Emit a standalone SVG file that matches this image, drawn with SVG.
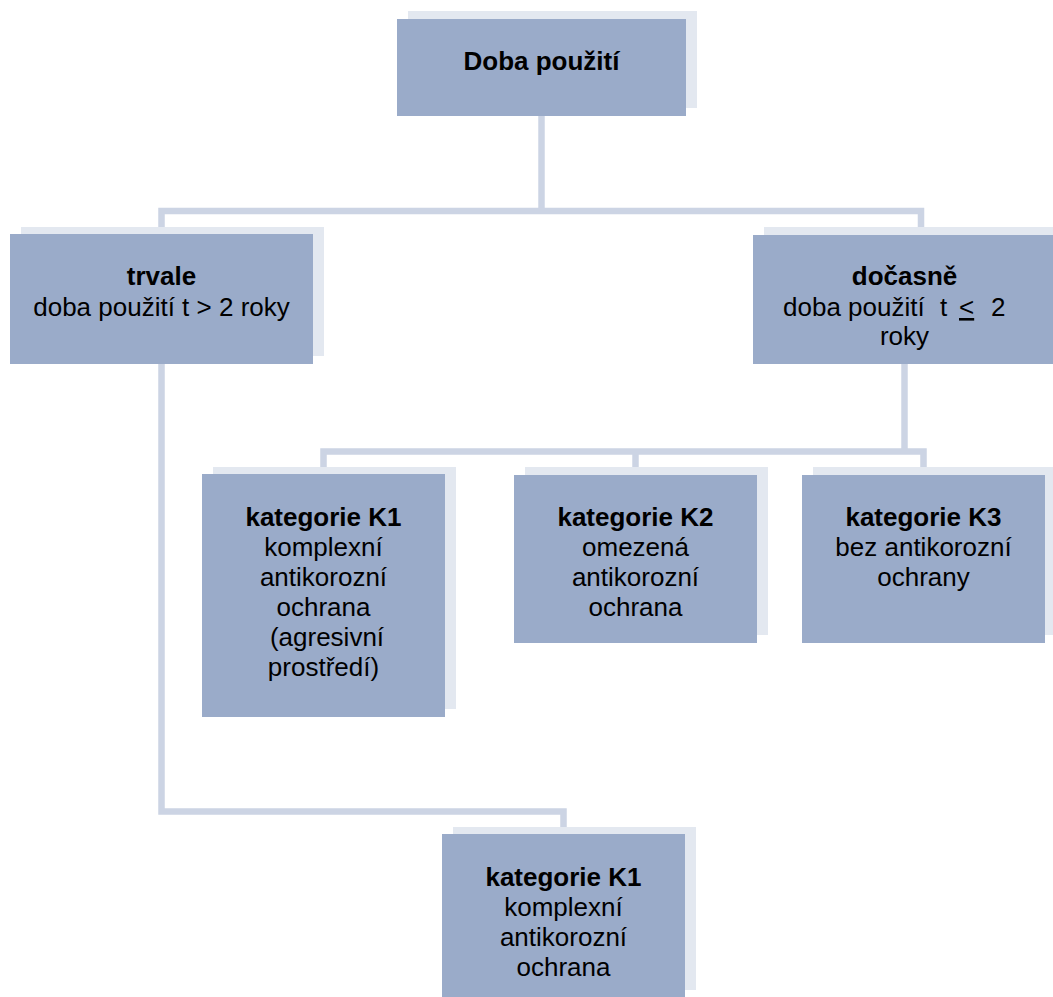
<svg xmlns="http://www.w3.org/2000/svg" width="1053" height="997" viewBox="0 0 1053 997">
<style>
.sh{fill:#e3e8f0}
.bx{fill:#9aabc9}
.cn{fill:none;stroke:#ccd4e4;stroke-width:6.5;stroke-linejoin:miter}
text{font-family:"Liberation Sans",Arial,sans-serif;font-size:26px;fill:#000;text-anchor:middle}
.b{font-weight:bold}
</style>
<rect width="1053" height="997" fill="#ffffff"/>
<g id="connectors">
<path class="cn" d="M541.5 116 V211"/>
<path class="cn" d="M161.5 235 V211 H921 V236"/>
<path class="cn" d="M904.5 364 V451.5"/>
<path class="cn" d="M323.5 475 V451.5 H923.5 V475"/>
<path class="cn" d="M635.5 451.5 V475"/>
<path class="cn" d="M161.5 364 V811.5 H563.5 V834"/>
</g>
<g id="doba">
<rect class="sh" x="408" y="11" width="289" height="97"/>
<rect class="bx" x="397" y="19" width="289" height="97"/>
<text class="b" x="541.5" y="70">Doba použití</text>
</g>
<g id="trvale">
<rect class="sh" x="21" y="227" width="303" height="129"/>
<rect class="bx" x="10" y="234" width="303" height="130"/>
<text x="161.5" y="285" class="b">trvale</text>
<text x="161.5" y="316">doba použití t &gt; 2 roky</text>
</g>
<g id="docasne">
<rect class="sh" x="764" y="227" width="303" height="129"/>
<rect class="bx" x="753" y="235" width="303" height="129"/>
<text x="904.5" y="285" class="b">dočasně</text>
<text y="316" style="text-anchor:start"><tspan x="783">doba použití</tspan><tspan x="940">t</tspan><tspan x="959" text-decoration="underline">&lt;</tspan><tspan x="991">2</tspan></text>
<text x="904.5" y="345">roky</text>
</g>
<g id="k1a">
<rect class="sh" x="213" y="467" width="243" height="242"/>
<rect class="bx" x="202" y="474" width="243" height="243"/>
<text x="323.5" y="526" class="b">kategorie K1</text>
<text x="323.5" y="556">komplexní</text>
<text x="323.5" y="586">antikorozní</text>
<text x="323.5" y="616">ochrana</text>
<text x="327" y="646">(agresivní</text>
<text x="323.5" y="676">prostředí)</text>
</g>
<g id="k2">
<rect class="sh" x="525" y="467" width="243" height="168"/>
<rect class="bx" x="514" y="475" width="243" height="168"/>
<text x="635.5" y="526" class="b">kategorie K2</text>
<text x="635.5" y="556">omezená</text>
<text x="635.5" y="586">antikorozní</text>
<text x="635.5" y="616">ochrana</text>
</g>
<g id="k3">
<rect class="sh" x="813" y="467" width="243" height="168"/>
<rect class="bx" x="802" y="475" width="243" height="168"/>
<text x="923.5" y="526" class="b">kategorie K3</text>
<text x="923.5" y="556">bez antikorozní</text>
<text x="923.5" y="586">ochrany</text>
</g>
<g id="k1b">
<rect class="sh" x="453" y="827" width="243" height="163"/>
<rect class="bx" x="442" y="834" width="243" height="170"/>
<text x="563.5" y="886" class="b">kategorie K1</text>
<text x="563.5" y="916">komplexní</text>
<text x="563.5" y="946">antikorozní</text>
<text x="563.5" y="976">ochrana</text>
</g>
</svg>
